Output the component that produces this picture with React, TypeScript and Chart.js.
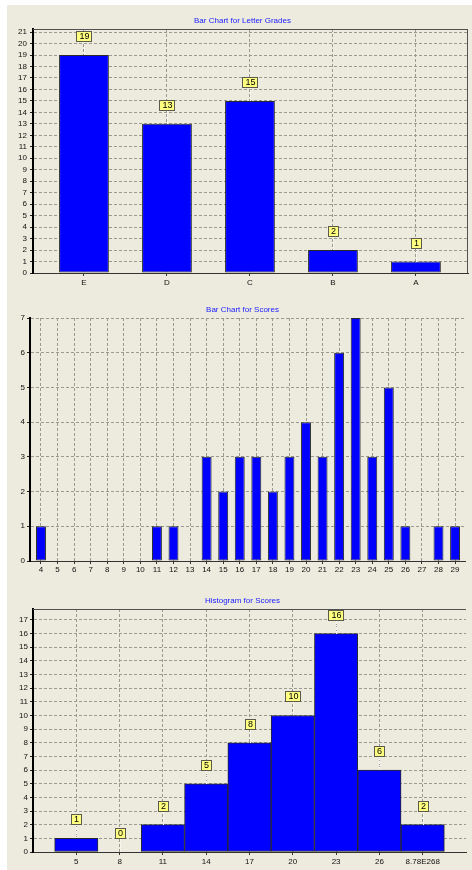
import React, { useEffect, useRef } from 'react';
import { Chart, registerables } from 'chart.js';

Chart.register(...registerables);
Chart.defaults.font.family = '"Liberation Sans", Arial, sans-serif';
Chart.defaults.color = '#111';

// ---- data ----
const gradeCategories = ['E', 'D', 'C', 'B', 'A'];
const gradeCounts = [19, 13, 15, 2, 1];

const scoreCategories = ['4', '5', '6', '7', '8', '9', '10', '11', '12', '13', '14', '15', '16', '17', '18', '19', '20', '21', '22', '23', '24', '25', '26', '27', '28', '29'];
const scoreCounts = [1, 0, 0, 0, 0, 0, 0, 1, 1, 0, 3, 2, 3, 3, 2, 3, 4, 3, 6, 7, 3, 5, 1, 0, 1, 1];

const histCategories = ['5', '8', '11', '14', '17', '20', '23', '26', '8.78E268'];
const histCounts = [1, 0, 2, 5, 8, 10, 16, 6, 2];

const titles = ['Bar Chart for Letter Grades', 'Bar Chart for Scores', 'Histogram for Scores'];

const PANEL_BG = '#ecebdd';
const GRID = '#9a9a90';

const valueBoxes = {
  id: 'valueBoxes',
  afterDatasetsDraw(chart: any, _args: any, opts: any) {
    if (!opts || !opts.display) return;
    const meta = chart.getDatasetMeta(0);
    const ctx = chart.ctx as CanvasRenderingContext2D;
    const ds = chart.data.datasets[0].data as any[];
    ctx.save();
    ctx.font = '9px "Liberation Sans", Arial, sans-serif';
    meta.data.forEach((bar: any, i: number) => {
      const text = String(ds[i].y);
      const w = Math.round(ctx.measureText(text).width + 6);
      const h = 11;
      const cx = Math.round(bar.x);
      const top = Math.round(bar.y);
      const by = top - 24;
      ctx.strokeStyle = '#ffffff';
      ctx.lineWidth = 1;
      ctx.setLineDash([1, 1]);
      ctx.beginPath();
      ctx.moveTo(cx + 0.5, by + h);
      ctx.lineTo(cx + 0.5, top);
      ctx.stroke();
      ctx.setLineDash([]);
      const bx = Math.round(cx - w / 2);
      ctx.fillStyle = '#ffff80';
      ctx.fillRect(bx, by, w, h);
      ctx.strokeStyle = '#5a5a4a';
      ctx.strokeRect(bx + 0.5, by + 0.5, w - 1, h - 1);
      ctx.fillStyle = '#000';
      ctx.textAlign = 'center';
      ctx.textBaseline = 'middle';
      ctx.fillText(text, cx + 0.5, by + h / 2 + 0.5);
    });
    ctx.restore();
  },
};

const frame = {
  id: 'frame',
  beforeDatasetsDraw(chart: any, _args: any, opts: any) {
    const { ctx, chartArea: a } = chart;
    ctx.save();
    ctx.lineWidth = 1;
    if (opts && opts.top) {
      ctx.strokeStyle = opts.top;
      ctx.beginPath();
      ctx.moveTo(a.left, Math.round(a.top) + 0.5);
      ctx.lineTo(a.right, Math.round(a.top) + 0.5);
      ctx.stroke();
    }
    if (opts && opts.right) {
      ctx.strokeStyle = opts.right;
      ctx.beginPath();
      ctx.moveTo(Math.round(a.right) - 0.5, a.top);
      ctx.lineTo(Math.round(a.right) - 0.5, a.bottom);
      ctx.stroke();
    }
    ctx.restore();
  },
};

type Spec = {
  title: string;
  labels: string[];
  values: number[];
  xMin: number;
  xMax: number;
  yMax: number;
  barPct: number;
  showValues: boolean;
  pad: { left: number; right: number; top: number; bottom: number };
  yAxisW: number;
  xAxisH: number;
  yPad: number;
  xPad: number;
  titlePad: { top: number; bottom: number };
  frameTop: string | null;
  frameRight: string | null;
};

function buildConfig(s: Spec): any {
  const data = s.values.map((v, i) => ({ x: i, y: v }));
  return {
    type: 'bar',
    data: {
      datasets: [
        {
          data,
          backgroundColor: '#0000ff',
          borderColor: '#2a2a2a',
          borderWidth: 1,
          borderSkipped: false,
          barPercentage: s.barPct,
          categoryPercentage: 1,
        },
      ],
    },
    options: {
      responsive: false,
      animation: false,
      events: [],
      layout: { padding: s.pad },
      scales: {
        x: {
          type: 'linear',
          min: s.xMin,
          max: s.xMax,
          offset: false,
          afterBuildTicks: (sc: any) => {
            sc.ticks = s.labels.map((_l, i) => ({ value: i }));
          },
          afterFit: (sc: any) => {
            sc.height = s.xAxisH;
          },
          ticks: {
            autoSkip: false,
            maxRotation: 0,
            padding: s.xPad,
            font: { size: 8 },
            color: '#111',
            callback: (v: any) => (s.labels[v] !== undefined ? s.labels[v] : ''),
          },
          grid: { offset: false, color: GRID, lineWidth: 1, tickColor: '#333', tickLength: 3, tickBorderDash: [] },
          border: { display: true, color: '#333', width: 1, dash: [3, 2] },
        },
        y: {
          type: 'linear',
          min: 0,
          max: s.yMax,
          afterBuildTicks: (sc: any) => {
            const t: any[] = [];
            for (let v = 0; v <= Math.floor(s.yMax); v++) t.push({ value: v });
            sc.ticks = t;
          },
          afterFit: (sc: any) => {
            sc.width = s.yAxisW;
          },
          ticks: {
            stepSize: 1,
            autoSkip: false,
            padding: s.yPad,
            font: { size: 8 },
            color: '#111',
          },
          grid: { color: GRID, lineWidth: 1, tickColor: '#222', tickLength: 3, tickBorderDash: [] },
          border: { display: true, color: '#000', width: 2, dash: [3, 2] },
        },
      },
      plugins: {
        legend: { display: false },
        tooltip: { enabled: false },
        title: {
          display: true,
          text: s.title,
          color: '#2020ff',
          font: { size: 8, weight: 'normal' },
          padding: s.titlePad,
        },
        valueBoxes: { display: s.showValues },
        frame: { top: s.frameTop, right: s.frameRight },
      },
    },
    plugins: [valueBoxes, frame],
  };
}

function ChartPanel(props: { spec: Spec; left: number; top: number; width: number; height: number }) {
  const ref = useRef<HTMLCanvasElement>(null);
  useEffect(() => {
    const chart = new Chart(ref.current as HTMLCanvasElement, buildConfig(props.spec));
    return () => chart.destroy();
  }, []);
  return (
    <canvas
      ref={ref}
      width={props.width}
      height={props.height}
      style={{ position: 'absolute', left: props.left, top: props.top, width: props.width, height: props.height }}
    />
  );
}

const spec1: Spec = {
  title: titles[0],
  labels: gradeCategories,
  values: gradeCounts,
  xMin: -0.614,
  xMax: 4.627,
  yMax: 21.27,
  barPct: 0.6,
  showValues: true,
  pad: { left: 10, right: 4, top: 0, bottom: 4 },
  yAxisW: 16,
  xAxisH: 18,
  yPad: 3,
  xPad: 2,
  titlePad: { top: 11.2, bottom: 3.2 },
  frameTop: '#505050',
  frameRight: '#505050',
};

const spec2: Spec = {
  title: titles[1],
  labels: scoreCategories,
  values: scoreCounts,
  xMin: -0.664,
  xMax: 25.63,
  yMax: 7,
  barPct: 0.6,
  showValues: false,
  pad: { left: 11.5, right: 6.5, top: 0, bottom: 4 },
  yAxisW: 10.5,
  xAxisH: 17,
  yPad: 2,
  xPad: 1,
  titlePad: { top: 9.7, bottom: 3.7 },
  frameTop: null,
  frameRight: null,
};

const spec3: Spec = {
  title: titles[2],
  labels: histCategories,
  values: histCounts,
  xMin: -1,
  xMax: 9,
  yMax: 17.8,
  barPct: 1,
  showValues: true,
  pad: { left: 11, right: 6, top: 0, bottom: 2 },
  yAxisW: 14,
  xAxisH: 16,
  yPad: 2,
  xPad: 2,
  titlePad: { top: 13.5, bottom: 3.9 },
  frameTop: '#505050',
  frameRight: null,
};

export default function App() {
  return (
    <div style={{ position: 'absolute', left: 0, top: 0, width: 472, height: 870, background: '#ffffff', overflow: 'hidden' }}>
      <div style={{ position: 'absolute', left: 7, top: 5, width: 465, height: 865, background: PANEL_BG }} />
      <ChartPanel spec={spec1} left={7} top={5} width={465} height={290} />
      <ChartPanel spec={spec2} left={8} top={295} width={464} height={287} />
      <ChartPanel spec={spec3} left={8} top={582} width={464} height={288} />
    </div>
  );
}
